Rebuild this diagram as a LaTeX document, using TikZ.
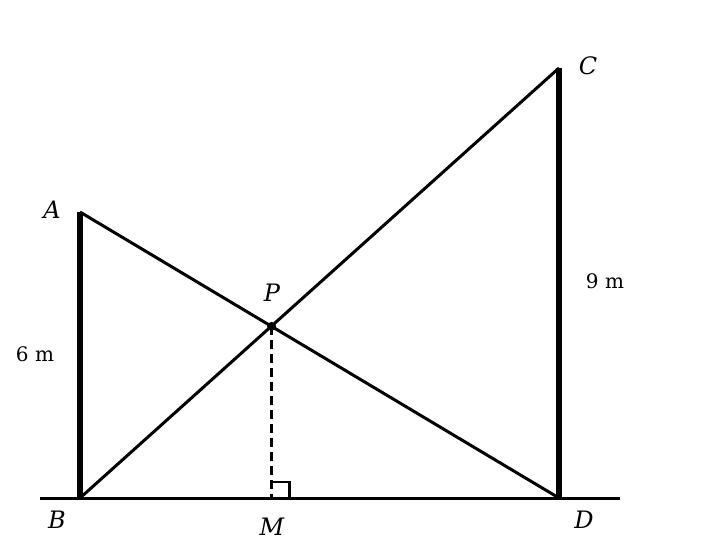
\documentclass[tikz,border=0pt]{standalone}
\usepackage{fontspec}
\setmainfont{DejaVu Serif}
\begin{document}
\begin{tikzpicture}[x=1pt,y=-1pt,
  thinline/.style={line width=3pt},
  postline/.style={line width=5.5pt},
  lbl/.style={font=\fontsize{24}{27}\selectfont\itshape, inner sep=0pt},
  meas/.style={font=\fontsize{20}{23}\selectfont, inner sep=0pt}]
\useasboundingbox (0,0) rectangle (720,550);
\coordinate (B) at (80,498);
\coordinate (A) at (80,212);
\coordinate (D) at (559,498);
\coordinate (C) at (559,68);
\coordinate (P) at (271.6,326.4);
\coordinate (M) at (271.6,498);
\coordinate (L) at (40,498);
\coordinate (R) at (620,498);
\draw[thinline] (L) -- (R);
\draw[thinline] (A) -- (D);
\draw[thinline] (B) -- (C);
\draw[postline] (A) -- (B);
\draw[postline] (C) -- (D);
\draw[line width=2.3pt, dash pattern=on 9pt off 5pt] (P) -- (M);
\draw[line width=2.3pt] (M) ++(0,-16) -- ++(18,0) -- ++(0,16);
\fill (P) circle (4.5);
\node[lbl] (lA) at (52,210) {A};
\node[lbl] (lB) at (57,520) {B};
\node[lbl] (lM) at (272,527) {M};
\node[lbl] (lD) at (584,520) {D};
\node[lbl] (lC) at (588,66) {C};
\node[lbl] (lP) at (272,293) {P};
\node[meas] (m6) at (35,354) {6 m};
\node[meas] (m9) at (605,281) {9 m};
\end{tikzpicture}
\end{document}
